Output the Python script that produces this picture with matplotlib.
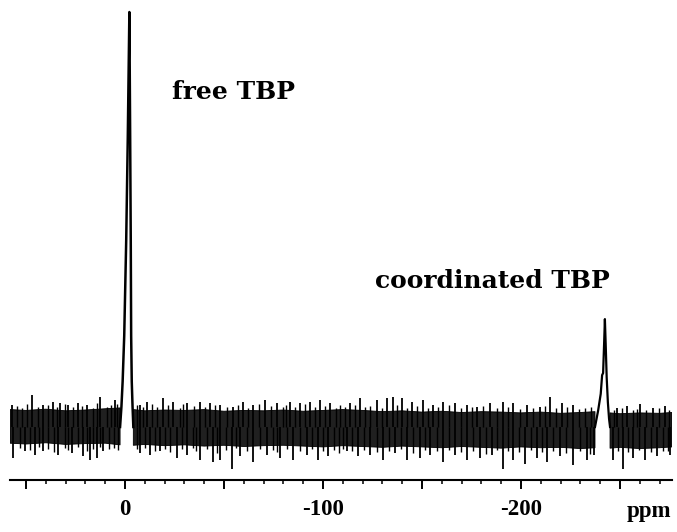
import numpy as np
import matplotlib
matplotlib.use("Agg")
import matplotlib.pyplot as plt
from matplotlib.ticker import FixedLocator, FixedFormatter

# --- data (x in ppm, intensity: free TBP peak = 100) ---

# noise band envelope (nan = gap where a peak sits)
band_ppm = [58.1, 50, 40, 30, 20, 10, 2.5, -1.0, -4.2,
            -10, -20, -30, -40, -50, -60, -70, -80, -90, -100, -110, -120,
            -130, -140, -150, -160, -170, -180, -190, -200, -210, -220, -230,
            -237.4, -241.0, -245.0, -250, -260, -270, -276.3]
band_top = [4.2, 4.0, 4.3, 3.9, 4.1, 4.4, 4.6, np.nan, 4.2,
            3.9, 4.1, 4.0, 4.2, 3.8, 4.0, 3.9, 4.1, 3.8, 4.0, 4.2, 4.0,
            3.7, 3.9, 3.6, 3.8, 3.5, 3.7, 3.6, 3.4, 3.6, 3.3, 3.5,
            3.7, np.nan, 3.4, 3.2, 3.4, 3.3, 3.5]
band_bot = [-3.9, -4.1, -3.8, -4.2, -4.0, -3.9, -4.3, np.nan, -4.4,
            -4.2, -4.5, -4.3, -4.6, -4.4, -4.7, -4.5, -4.4, -4.6, -4.8, -4.5, -4.7,
            -4.9, -4.6, -4.8, -5.0, -4.7, -4.9, -5.1, -4.8, -5.0, -4.9, -5.2,
            -5.0, np.nan, -5.1, -4.9, -5.2, -5.0, -4.8]

# larger noise spikes sticking out of the band
up_ppm = [57.2, 47.1, 41.3, 36.2, 32.8, 28.6, 23.6, 19.4, 12.6, 5.1,
          -7.6, -10.9, -19.4, -24.4, -31.2, -37.9, -42.9, -48.0, -54.7, -59.7,
          -64.8, -70.7, -76.6, -83.3, -88.4, -93.4, -98.5, -103.5,
          -113.6, -118.7, -127.1, -132.2, -135.5, -139.7, -144.8, -150.7, -155.7,
          -160.8, -166.7, -172.6, -177.6, -184.3, -191.1, -196.1, -202.9, -209.6,
          -214.6, -220.5, -226.4, -248.3, -253.4, -260.1, -266.8, -272.7]
up_tip = [5.3, 7.7, 5.3, 6.1, 5.7, 5.3, 5.7, 5.3, 7.3, 6.5,
          5.3, 6.1, 6.9, 6.1, 5.7, 6.1, 5.7, 5.3, 4.9, 6.1,
          5.3, 6.5, 5.7, 6.1, 5.7, 6.1, 6.5, 5.7,
          5.7, 6.9, 6.5, 6.9, 7.3, 6.9, 6.1, 6.5, 5.3,
          6.1, 5.7, 5.3, 4.9, 5.7, 6.1, 5.7, 5.3, 4.9,
          7.3, 5.7, 5.3, 4.6, 5.1, 5.5, 4.6, 5.1]

down_ppm = [56.4, 50.5, 45.5, 41.3, 33.7, 26.9, 21.0, 17.7, 14.3, 11.0,
            -7.6, -12.6, -17.7, -26.1, -31.2, -37.9, -44.6, -48.0, -53.9, -58.1,
            -64.8, -71.6, -78.3, -85.0, -91.8, -97.6, -102.7,
            -112.0, -117.8, -123.7, -130.5, -136.4, -142.3, -149.0, -154.0, -160.8,
            -166.7, -172.6, -179.3, -185.2, -191.1, -196.1, -202.0, -207.9, -213.0,
            -219.7, -226.4, -233.2, -236.8, -246.6, -251.7, -256.7, -262.6, -268.5,
            -275.3]
down_tip = [-7.5, -5.9, -6.7, -5.9, -6.7, -6.3, -7.1, -7.9, -7.5, -5.9,
            -6.3, -6.7, -5.9, -7.5, -6.7, -7.9, -8.4, -7.9, -10.0, -7.1,
            -8.4, -6.7, -7.5, -7.9, -6.7, -7.9, -7.1,
            -5.9, -7.1, -6.7, -7.9, -6.3, -7.9, -7.5, -6.7, -8.4,
            -6.7, -7.9, -7.5, -6.7, -10.0, -7.9, -8.8, -7.5, -8.4,
            -7.1, -9.2, -7.9, -6.7, -7.9, -10.0, -7.5, -7.9, -7.1,
            -6.7]

# finer fringe spikes between the larger ones
fine_up_ppm = [54.5, 52.0, 49.6, 44.0, 38.8, 34.5, 30.5, 26.2, 21.5, 16.0,
               14.2, 9.0, 7.2, 3.8,
               -5.8, -9.3, -13.5, -16.2, -21.8, -27.7, -29.5, -34.6, -40.3, -45.4,
               -51.3, -57.2, -62.0, -67.7, -73.6, -79.8, -81.5, -85.8, -90.9, -96.0,
               -101.0, -106.5, -108.8, -111.2, -116.1, -121.0, -124.0, -129.6, -137.6,
               -142.3, -147.7, -153.2, -158.2, -163.7, -169.6, -175.1, -180.9, -187.7,
               -193.6, -199.5, -206.2, -212.1, -217.5, -223.4, -229.3, -232.5, -235.6,
               -246.8, -250.8, -256.7, -258.5, -263.4, -269.7, -274.8]
fine_up_tip = [5.0, 4.7, 5.6, 4.9, 5.2, 4.8, 5.5, 4.9, 5.1, 4.7,
               5.8, 4.9, 5.3, 5.6,
               5.2, 4.8, 5.5, 4.9, 5.3, 4.7, 5.6, 5.0, 4.8, 5.4,
               4.9, 5.2, 4.7, 5.5, 5.0, 4.8, 5.3, 4.9, 5.6, 4.8,
               5.1, 4.7, 5.4, 4.9, 5.2, 4.8, 5.0, 4.6, 5.3,
               4.7, 5.1, 4.6, 4.9, 5.2, 4.5, 4.8, 5.0, 4.6,
               4.9, 4.4, 4.7, 5.0, 4.5, 4.8, 4.4, 4.6, 4.9,
               4.2, 4.5, 4.0, 4.4, 4.1, 4.6, 4.2]

fine_down_ppm = [53.3, 48.0, 43.2, 38.9, 36.0, 30.5, 28.8, 24.0, 19.3, 16.0,
                 12.6, 8.0, 5.5, 3.6,
                 -5.9, -10.1, -15.0, -20.2, -22.9, -28.7, -34.5, -36.0, -41.3, -46.3,
                 -51.0, -56.0, -61.5, -68.2, -74.9, -76.8, -81.6, -88.4, -94.7, -100.1,
                 -105.4, -108.0, -110.0, -114.9, -120.7, -127.1, -133.4, -139.3, -145.6,
                 -151.5, -157.4, -163.7, -169.6, -175.9, -182.2, -188.1, -193.6, -199.0,
                 -205.0, -210.4, -216.3, -223.0, -229.8, -235.0,
                 -248.9, -254.2, -259.6, -265.5, -271.9, -274.1]
fine_down_tip = [-5.0, -5.6, -4.9, -5.3, -6.0, -5.1, -5.5, -4.8, -5.8, -5.2,
                 -4.9, -5.4, -5.1, -5.6,
                 -5.3, -5.0, -5.7, -5.2, -6.1, -5.4, -5.0, -5.8, -5.3, -6.2,
                 -5.5, -5.1, -5.9, -5.4, -5.6, -6.0, -5.3, -5.7, -5.2, -5.9,
                 -5.6, -6.3, -5.4, -5.8, -5.5, -6.1, -5.7, -5.4, -6.2,
                 -5.6, -5.9, -5.5, -6.0, -5.7, -6.4, -5.6, -5.8, -6.1,
                 -5.5, -6.0, -5.7, -6.2, -5.8, -6.5,
                 -5.8, -6.1, -5.6, -6.0, -5.7, -5.9]

# peak profiles
free_ppm = [2.5, 1.8, 1.2, 0.4, -0.6, -1.4, -2.2, -2.6, -2.9, -3.1, -3.4, -3.8, -4.2]
free_int = [0, 5, 11, 22, 45, 70, 100, 70, 45, 22, 11, 5, 0]

coord_ppm = [-237.4, -239.0, -240.3, -241.0, -241.5, -242.0, -242.4,
             -242.8, -243.3, -243.9, -244.5, -245.0]
coord_int = [0, 4, 8, 12.5, 13, 20, 26, 20, 12, 6, 2, 0]

major_ticks = [50, 0, -50, -100, -150, -200, -250]
tick_text = ['', '0', '', '-100', '', '-200', '']
minor_ticks = [t for t in range(50, -280, -10) if t % 50 != 0]

# --- figure ---
fig = plt.figure(figsize=(6.77, 5.32), dpi=100)
ax = fig.add_axes([10 / 677, 52 / 532, 662 / 677, 480 / 532])

ax.fill_between(band_ppm, band_bot, band_top, color='#202020', lw=0.6,
                edgecolor='k')
ax.vlines(fine_up_ppm, 0, fine_up_tip, color='k', lw=1.0)
ax.vlines(fine_down_ppm, 0, fine_down_tip, color='k', lw=1.0)
ax.vlines(up_ppm, 0, up_tip, color='k', lw=1.3)
ax.vlines(down_ppm, 0, down_tip, color='k', lw=1.3)
ax.plot(free_ppm, free_int, color='k', lw=1.8)
ax.plot(coord_ppm, coord_int, color='k', lw=1.6)

ax.set_xlim(58.1, -276.3)
ax.set_ylim(-12.77, 102.9)

for s in ['top', 'left', 'right']:
    ax.spines[s].set_visible(False)
ax.spines['bottom'].set_linewidth(1.5)
ax.set_yticks([])

ax.xaxis.set_major_locator(FixedLocator(major_ticks))
ax.xaxis.set_major_formatter(FixedFormatter(tick_text))
ax.xaxis.set_minor_locator(FixedLocator(minor_ticks))
ax.tick_params(axis='x', which='major', direction='out', length=6.5,
               width=1.4, pad=7.5)
ax.tick_params(axis='x', which='minor', direction='out', length=3,
               width=1.1)
for lbl in ax.get_xticklabels():
    lbl.set_fontfamily('Liberation Serif')
    lbl.set_fontweight('bold')
    lbl.set_fontsize(16.5)

fig.text(649 / 677, 1 - 517 / 532, 'ppm', ha='center', va='baseline',
         family='Liberation Serif', weight='bold', size=16.5)

ax.text(-23.7, 79.0, 'free TBP', family='DejaVu Serif', weight='bold',
        size=18, ha='left', va='baseline')
ax.text(-126.3, 33.5, 'coordinated TBP', family='DejaVu Serif',
        weight='bold', size=18, ha='left', va='baseline')

fig.savefig('out.png', dpi=100)
